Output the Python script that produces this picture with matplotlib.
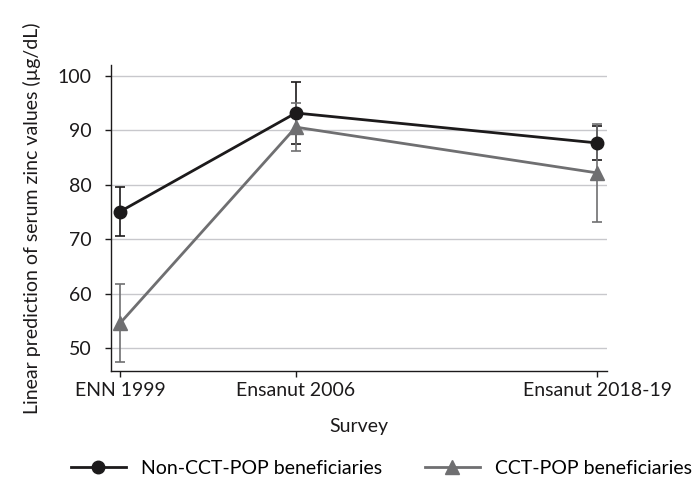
import matplotlib
matplotlib.use("Agg")
from matplotlib import pyplot as plt
from matplotlib.lines import Line2D

# Данные
years = [1999, 2006, 2018]
survey_labels = ["ENN 1999", "Ensanut 2006", "Ensanut 2018-19"]

non_cct = [75.1, 93.2, 87.7]
non_cct_err = [4.5, 5.7, 3.1]

cct = [54.6, 90.6, 82.2]
cct_err = [7.2, 4.4, 9.0]

plt.rcParams['font.family'] = ['Lato', 'DejaVu Sans']

fig = plt.figure(figsize=(6.94, 4.82), dpi=100)
ax = fig.add_axes([0.16, 0.23, 0.715, 0.635])

black = '#1c1a1b'
grey = '#6f6f71'
fs = 14

ax.errorbar(years, non_cct, yerr=non_cct_err, color=black, ecolor=black,
            marker='o', ms=9, lw=2, elinewidth=1.2, capsize=3.5, capthick=1.2,
            zorder=3)
ax.errorbar(years, cct, yerr=cct_err, color=grey, ecolor=grey,
            marker='^', ms=10, lw=2, elinewidth=1.2, capsize=3.5, capthick=1.2,
            zorder=3)

ax.set_xlim(1998.64, 2018.4)
ax.set_ylim(45.8, 102)
ax.set_xticks(years)
ax.set_xticklabels(survey_labels)
ax.set_yticks([50, 60, 70, 80, 90, 100])

ax.grid(axis='y', color='#c8c8cc', lw=1)
ax.set_axisbelow(True)
for s in ['top', 'right']:
    ax.spines[s].set_visible(False)
for s in ['left', 'bottom']:
    ax.spines[s].set_color(black)
    ax.spines[s].set_linewidth(1)

ax.tick_params(axis='both', labelsize=fs, colors=black, length=4, width=1)
ax.tick_params(axis='y', pad=10)

ax.set_xlabel('Survey', fontsize=fs, color=black, labelpad=14)
ax.set_ylabel('Linear prediction of serum zinc values (µg/dL)', fontsize=fs,
              color=black, labelpad=12)

handles = [
    Line2D([], [], color=black, marker='o', ms=9, lw=2),
    Line2D([], [], color=grey, marker='^', ms=10, lw=2),
]
labels = ['Non-CCT-POP beneficiaries', 'CCT-POP beneficiaries']
fig.legend(handles, labels, loc='lower center', bbox_to_anchor=(0.55, -0.025),
           ncol=2, frameon=False, fontsize=fs, handlelength=2.8,
           columnspacing=2.2, handletextpad=0.8)

fig.savefig('out.png', dpi=100)
